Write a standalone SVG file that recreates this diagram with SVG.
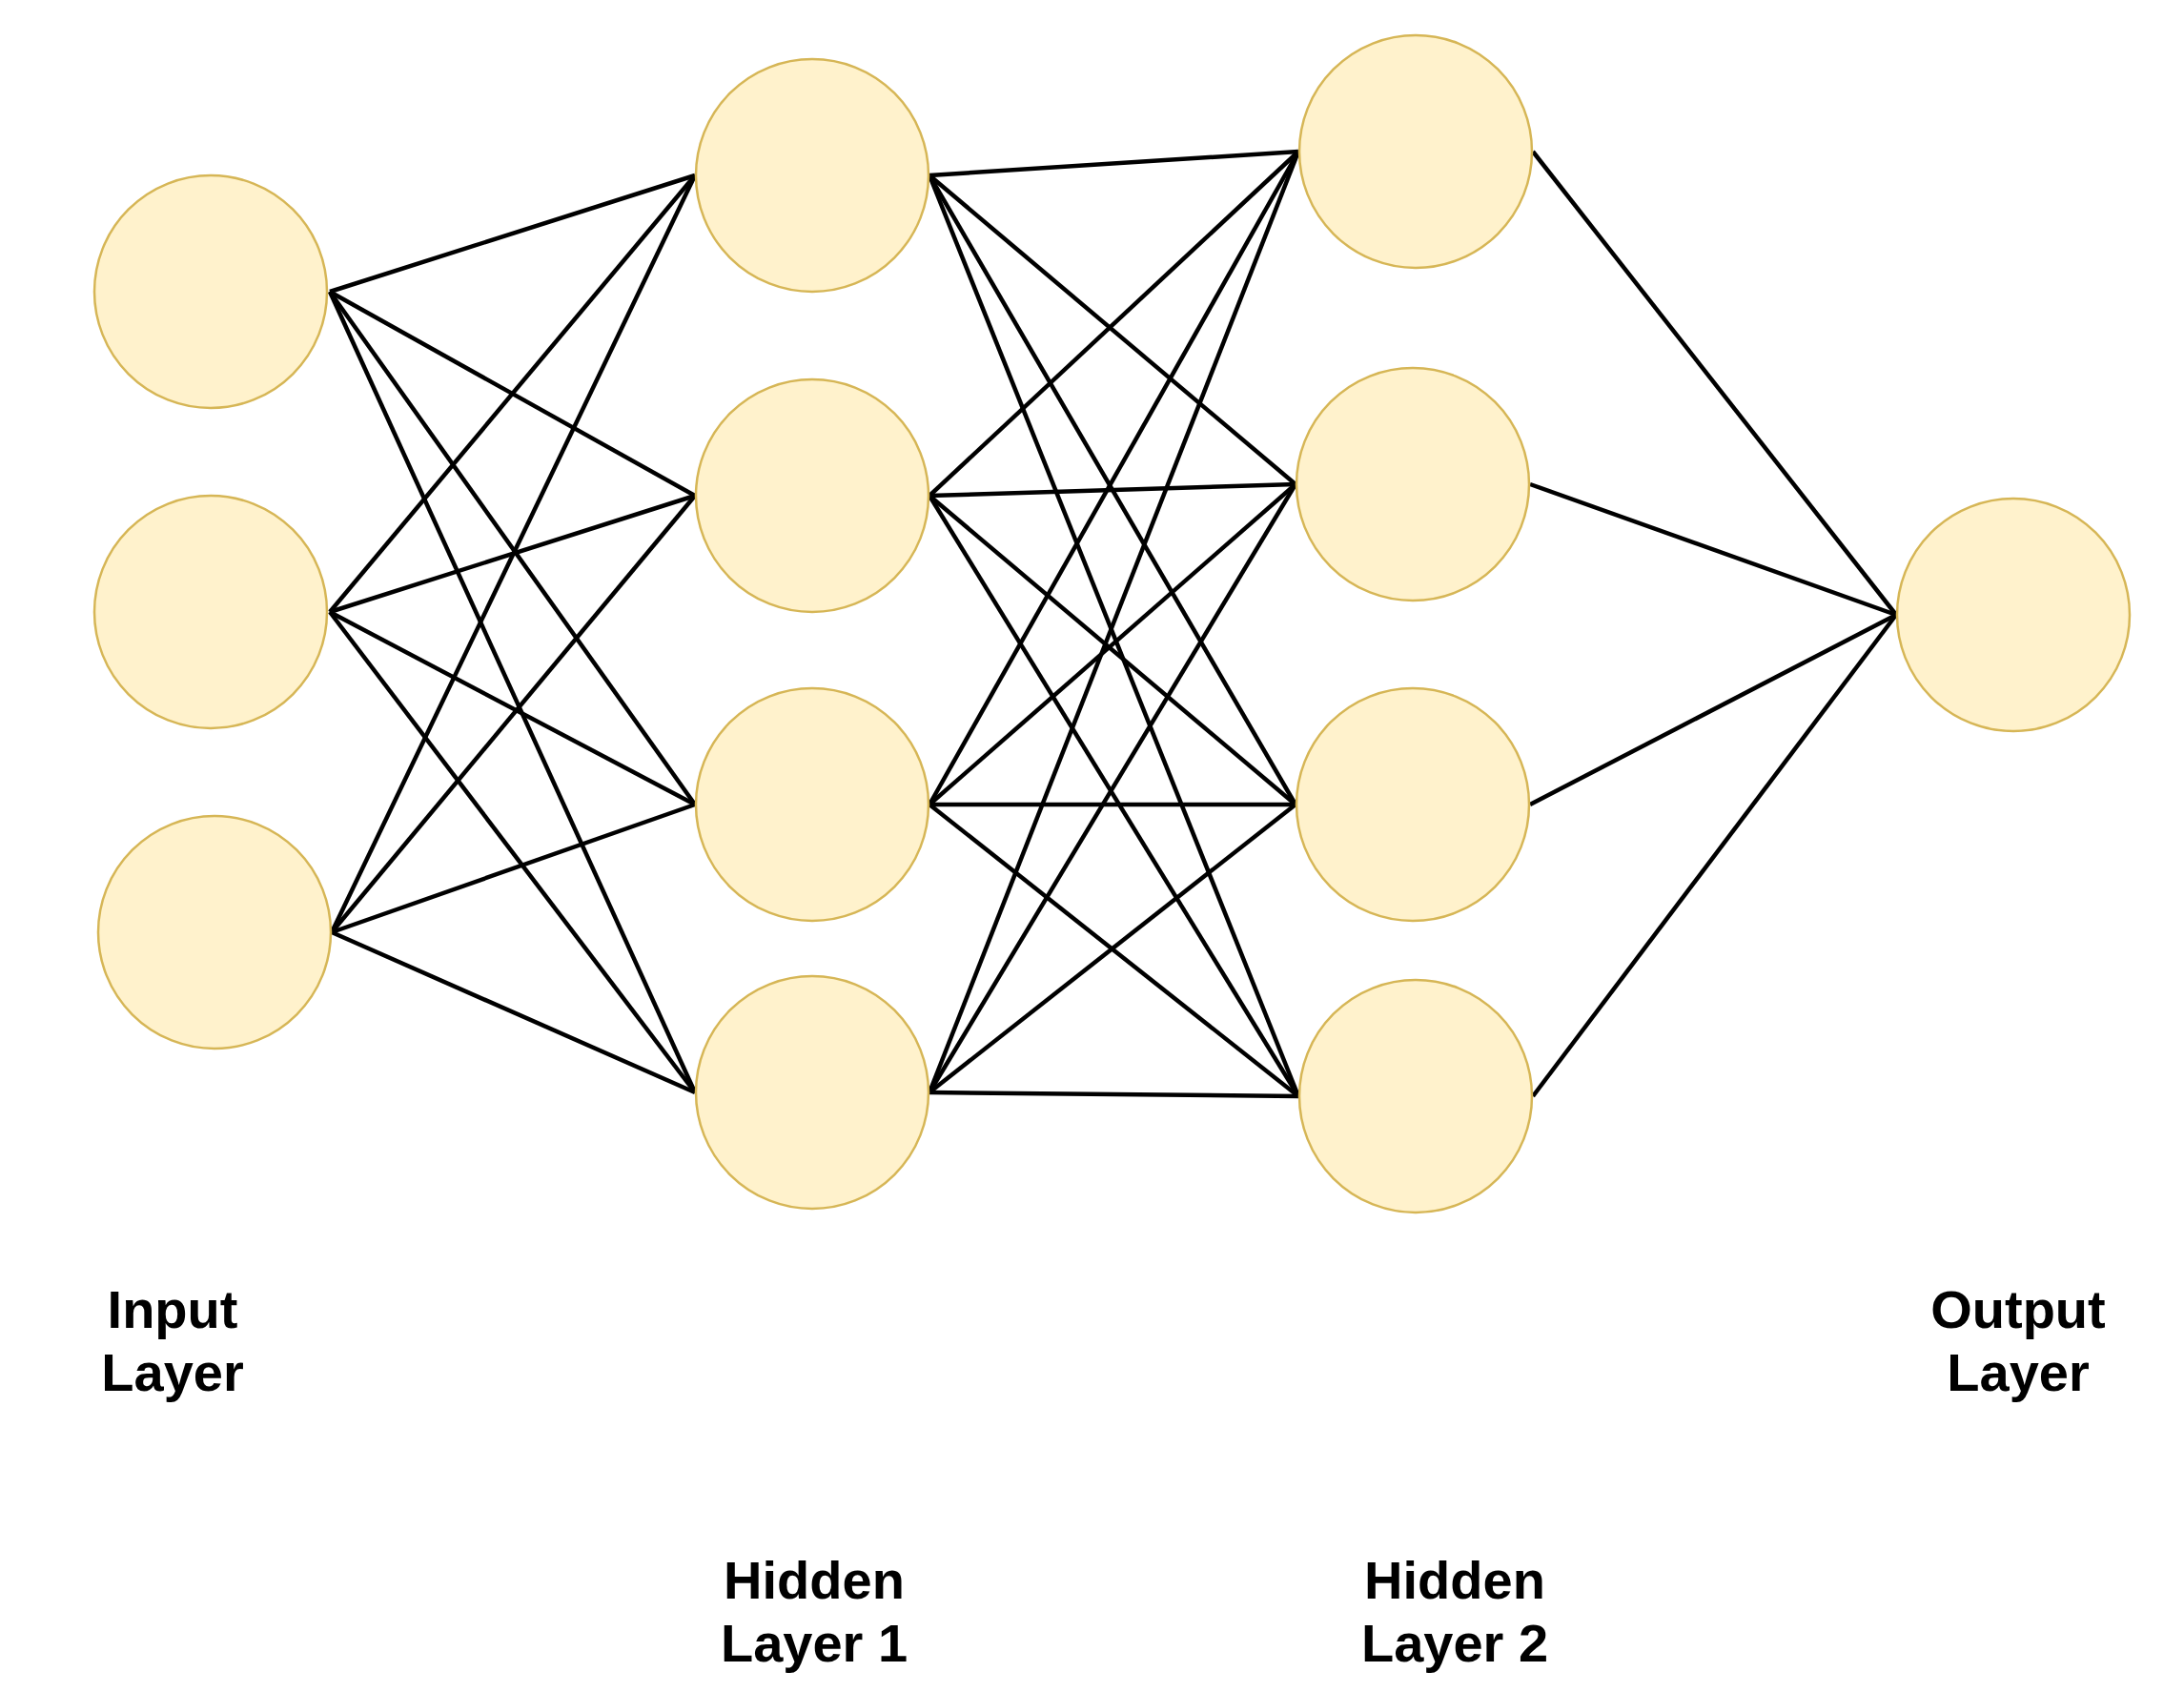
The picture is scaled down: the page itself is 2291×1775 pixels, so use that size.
<svg xmlns="http://www.w3.org/2000/svg" width="2291" height="1775" viewBox="0 0 2291 1775">
<style>
.n{fill:#fff2cc;stroke:#d6b656;stroke-width:2.5}
.c line{stroke:#000;stroke-width:4.5}
text{font-family:"Liberation Sans",Arial,sans-serif;font-size:56px;font-weight:bold;text-anchor:middle;fill:#000}
</style>
<rect width="2291" height="1775" fill="#fff"/>
<g class="c" id="connectors">
<line x1="346" y1="306" x2="729" y2="184"/><line x1="346" y1="306" x2="729" y2="520"/><line x1="346" y1="306" x2="729" y2="844"/><line x1="346" y1="306" x2="729" y2="1146"/>
<line x1="346" y1="642" x2="729" y2="184"/><line x1="346" y1="642" x2="729" y2="520"/><line x1="346" y1="642" x2="729" y2="844"/><line x1="346" y1="642" x2="729" y2="1146"/>
<line x1="348" y1="978" x2="729" y2="184"/><line x1="348" y1="978" x2="729" y2="520"/><line x1="348" y1="978" x2="729" y2="844"/><line x1="348" y1="978" x2="729" y2="1146"/>
<line x1="975" y1="184" x2="1362" y2="159"/><line x1="975" y1="184" x2="1359" y2="508"/><line x1="975" y1="184" x2="1359" y2="844"/><line x1="975" y1="184" x2="1362" y2="1150"/>
<line x1="975" y1="520" x2="1362" y2="159"/><line x1="975" y1="520" x2="1359" y2="508"/><line x1="975" y1="520" x2="1359" y2="844"/><line x1="975" y1="520" x2="1362" y2="1150"/>
<line x1="975" y1="844" x2="1362" y2="159"/><line x1="975" y1="844" x2="1359" y2="508"/><line x1="975" y1="844" x2="1359" y2="844"/><line x1="975" y1="844" x2="1362" y2="1150"/>
<line x1="975" y1="1146" x2="1362" y2="159"/><line x1="975" y1="1146" x2="1359" y2="508"/><line x1="975" y1="1146" x2="1359" y2="844"/><line x1="975" y1="1146" x2="1362" y2="1150"/>
<line x1="1608" y1="159" x2="1989" y2="645"/><line x1="1605" y1="508" x2="1989" y2="645"/><line x1="1605" y1="844" x2="1989" y2="645"/><line x1="1608" y1="1150" x2="1989" y2="645"/>
</g>
<g id="in1"><ellipse class="n" cx="221" cy="306" rx="122" ry="122"/></g>
<g id="in2"><ellipse class="n" cx="221" cy="642" rx="122" ry="122"/></g>
<g id="in3"><ellipse class="n" cx="225" cy="978" rx="122" ry="122"/></g>
<g id="h1a"><ellipse class="n" cx="852" cy="184" rx="122" ry="122"/></g>
<g id="h1b"><ellipse class="n" cx="852" cy="520" rx="122" ry="122"/></g>
<g id="h1c"><ellipse class="n" cx="852" cy="844" rx="122" ry="122"/></g>
<g id="h1d"><ellipse class="n" cx="852" cy="1146" rx="122" ry="122"/></g>
<g id="h2a"><ellipse class="n" cx="1485" cy="159" rx="122" ry="122"/></g>
<g id="h2b"><ellipse class="n" cx="1482" cy="508" rx="122" ry="122"/></g>
<g id="h2c"><ellipse class="n" cx="1482" cy="844" rx="122" ry="122"/></g>
<g id="h2d"><ellipse class="n" cx="1485" cy="1150" rx="122" ry="122"/></g>
<g id="out"><ellipse class="n" cx="2112" cy="645" rx="122" ry="122"/></g>
<g id="labels">
<text x="181" y="1393">Input</text><text x="181" y="1459">Layer</text>
<text x="854" y="1677">Hidden</text><text x="854" y="1743">Layer 1</text>
<text x="1526" y="1677">Hidden</text><text x="1526" y="1743">Layer 2</text>
<text x="2117" y="1393">Output</text><text x="2117" y="1459">Layer</text>
</g>
</svg>
